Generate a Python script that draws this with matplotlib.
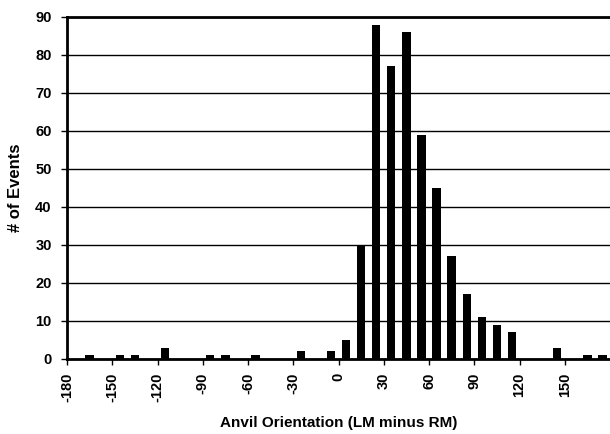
import matplotlib
matplotlib.use("Agg")
import matplotlib.pyplot as plt
import numpy as np

plt.rcParams['font.family'] = ['Liberation Sans', 'DejaVu Sans']

bin_centers = list(range(-175, 180, 10))
counts = [0, 1, 0, 1, 1, 0, 3, 0, 0, 1, 1, 0, 1, 0, 0, 2, 0, 2,
          5, 30, 88, 77, 86, 59, 45, 27, 17, 11, 9, 7, 0, 0, 3, 0, 1, 1]
x_ticks = [-180, -150, -120, -90, -60, -30, 0, 30, 60, 90, 120, 150]
y_ticks = [0, 10, 20, 30, 40, 50, 60, 70, 80, 90]

fig = plt.figure(figsize=(6.10, 4.34), dpi=100)
ax = fig.add_axes([67/610, 1-359/434, (610-67)/610, (359-17)/434])

ax.bar(bin_centers, counts, width=5.5, color='black', zorder=3)

ax.set_xlim(-180, 180)
ax.set_ylim(0, 90)
ax.set_yticks(y_ticks)
ax.set_xticks(x_ticks)
ax.set_xticklabels([str(t) for t in x_ticks], rotation=90, fontsize=10.5, fontweight='bold')
ax.set_yticklabels([str(t) for t in y_ticks], fontsize=10.5, fontweight='bold')
ax.yaxis.grid(True, color='black', linewidth=1.0, zorder=0)
ax.set_axisbelow(True)

for s in ['top', 'left', 'bottom']:
    ax.spines[s].set_linewidth(2.0)
    ax.spines[s].set_color('black')
ax.spines['right'].set_visible(False)
ax.tick_params(axis='x', direction='out', length=4, width=1, color='black', pad=6)
ax.tick_params(axis='y', direction='out', length=4, width=1, color='black', pad=7)

ax.set_xlabel('Anvil Orientation (LM minus RM)', fontsize=11, fontweight='bold', labelpad=10)
ax.set_ylabel('# of Events', fontsize=12, fontweight='bold')
ax.yaxis.set_label_coords(-(67-23)/543, 0.5)

fig.savefig('out.png', dpi=100)
